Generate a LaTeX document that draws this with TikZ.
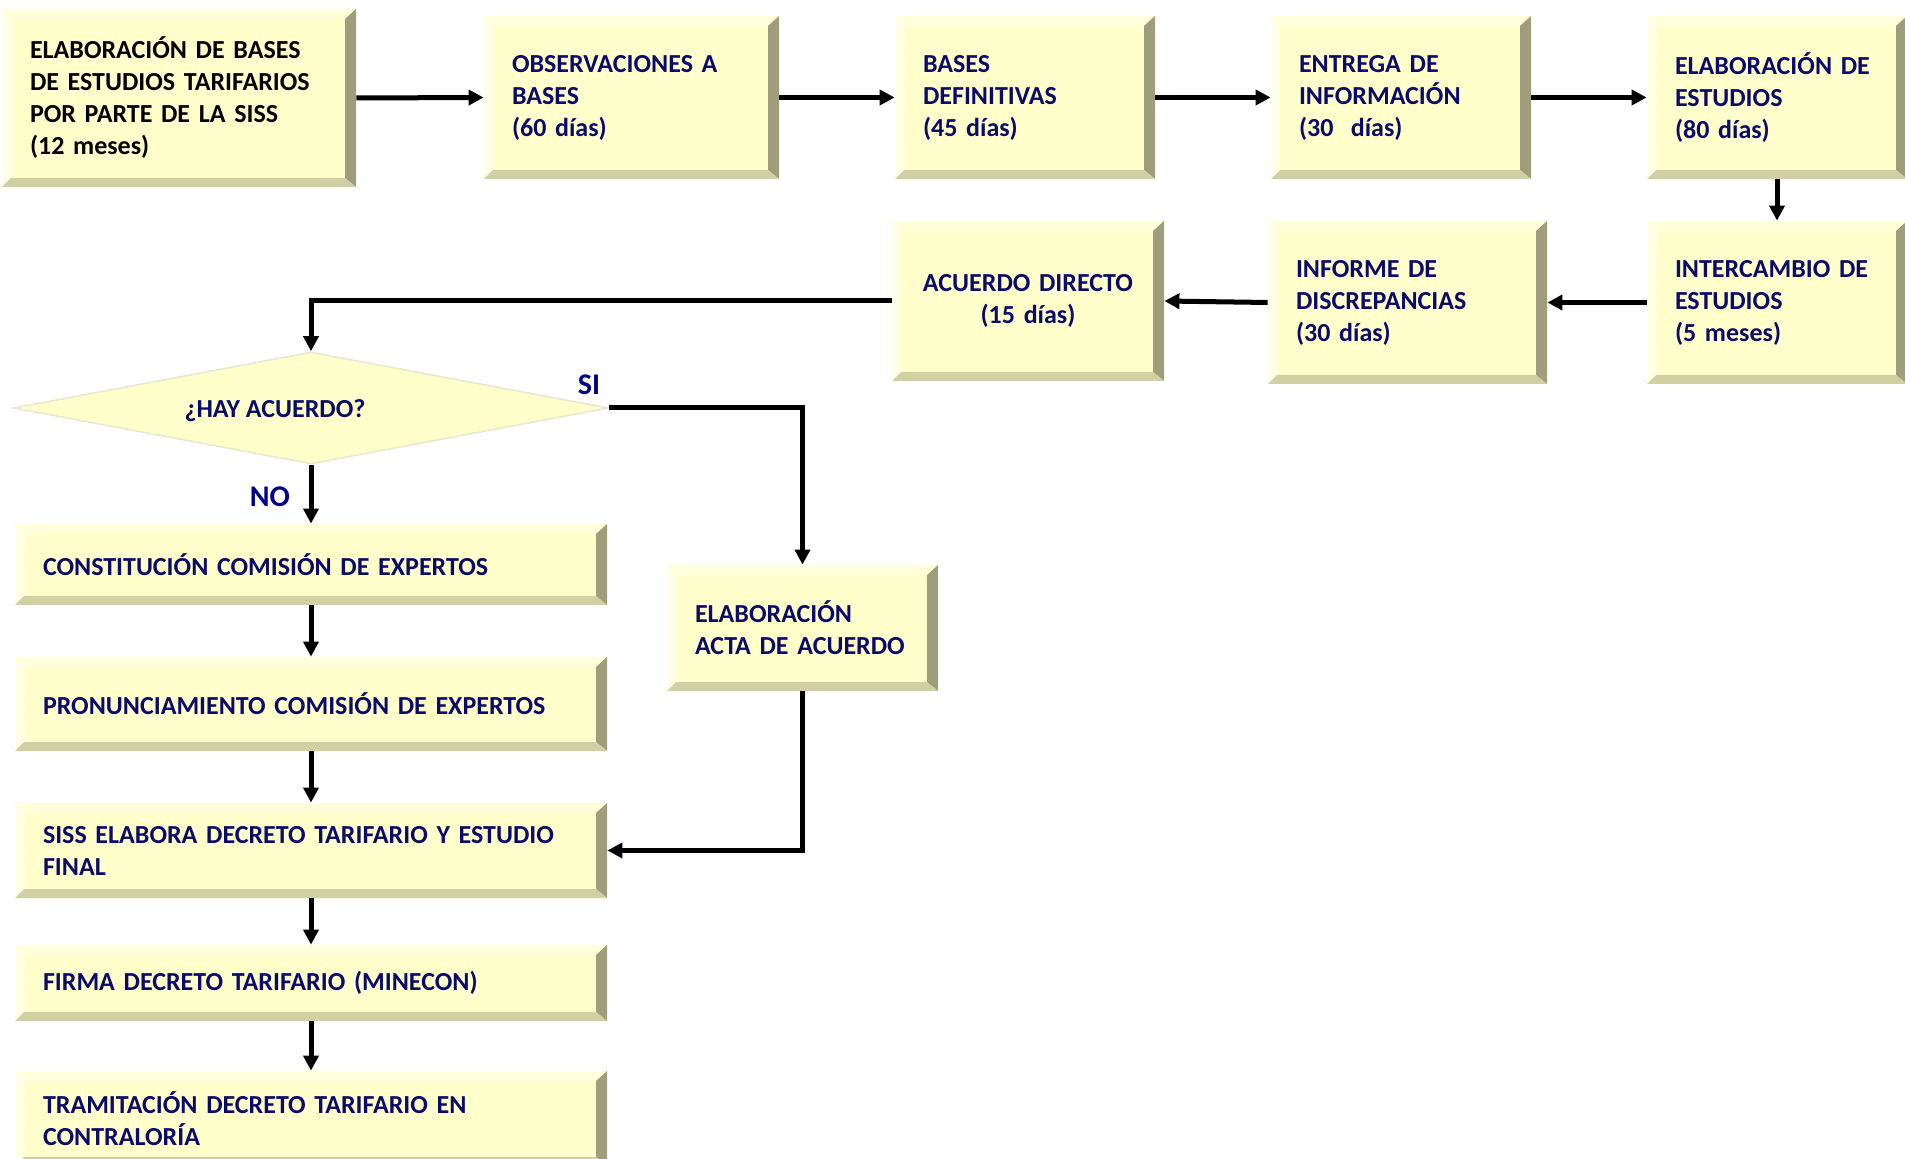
\documentclass[tikz,border=0pt]{standalone}
\usepackage{fontspec}
\setmainfont{Carlito}
\usepackage{tikz}
\usetikzlibrary{arrows.meta}
\usetikzlibrary{calc}
\usetikzlibrary{shapes.geometric}

\definecolor{boxface}{HTML}{FFFFCC}
\definecolor{boxlight}{HTML}{FFFFE8}
\definecolor{boxtop}{HTML}{FFFFDC}
\definecolor{boxdark}{HTML}{9E9E7C}
\definecolor{boxbottom}{HTML}{D0D0A2}
\definecolor{boxtext}{HTML}{0A0A6A}
\definecolor{answertext}{HTML}{00008C}
\definecolor{diamondline}{HTML}{E8E8CC}

\tikzset{
    bevelbox/.style={rectangle, fill=boxface, text=boxtext, inner xsep=14pt,
        inner ysep=0pt, align=left,
        font=\fontsize{13pt}{16pt}\selectfont\bfseries,
        path picture={
            \coordinate (pnw) at (path picture bounding box.north west);
            \coordinate (pne) at (path picture bounding box.north east);
            \coordinate (psw) at (path picture bounding box.south west);
            \coordinate (pse) at (path picture bounding box.south east);
            \fill[boxlight] (psw) -- (pnw) -- ([shift={(4.5pt,-5pt)}]pnw)
                -- ([shift={(4.5pt,4.5pt)}]psw) -- cycle;
            \fill[boxtop] (pnw) -- (pne) -- ([shift={(-5.5pt,-5pt)}]pne)
                -- ([shift={(4.5pt,-5pt)}]pnw) -- cycle;
            \fill[boxdark] (pne) -- (pse) -- ([shift={(-5.5pt,4.5pt)}]pse)
                -- ([shift={(-5.5pt,-5pt)}]pne) -- cycle;
            \fill[boxbottom] (psw) -- (pse) -- ([shift={(-5.5pt,4.5pt)}]pse)
                -- ([shift={(4.5pt,4.5pt)}]psw) -- cycle;
        }},
    decision/.style={diamond, fill=boxface, draw=diamondline, line width=0.8pt,
        minimum width=297.5pt, minimum height=56pt, inner sep=0pt},
    decisiontext/.style={text=boxtext,
        font=\fontsize{13pt}{16pt}\selectfont\bfseries},
    answer/.style={text=answertext,
        font=\fontsize{15pt}{18pt}\selectfont\bfseries},
    flow/.style={line width=2.5pt, -{Triangle[length=7.5pt,width=7.5pt]}},
}

\begin{document}
\begin{tikzpicture}[x=0.5pt,y=-0.5pt]
        \useasboundingbox (0,0) rectangle (1905,1159);

        % upper row
        \node[bevelbox, text=black, text width=149pt, minimum width=177pt,
        minimum height=89pt] (bases) at (179,98) {ELABORACIÓN DE BASES\\DE
        ESTUDIOS TARIFARIOS\\POR PARTE DE LA SISS\\(12 meses)};

        \node[bevelbox, text width=119.5pt, minimum width=147.5pt,
        minimum height=81.5pt] (obs) at (631.5,97.5) {OBSERVACIONES A\\
        BASES\\(60 días)};

        \node[bevelbox, text width=102pt, minimum width=130pt,
        minimum height=81.5pt] (defin) at (1025,97.5) {BASES\\DEFINITIVAS\\
        (45 días)};

        \node[bevelbox, text width=102pt, minimum width=130pt,
        minimum height=81.5pt] (entrega) at (1401,97.5) {ENTREGA DE\\
        INFORMACIÓN\\(30\ \ días)};

        \node[bevelbox, text width=102pt, minimum width=130pt,
        minimum height=81.5pt] (elabest) at (1777,97.5) {ELABORACIÓN DE\\
        ESTUDIOS\\(80 días)};

        % second row, right to left
        \node[bevelbox, text width=102pt, minimum width=130pt,
        minimum height=81.5pt] (interc) at (1777,302.5) {INTERCAMBIO DE\\
        ESTUDIOS\\(5 meses)};

        \node[bevelbox, text width=111.5pt, minimum width=139.5pt,
        minimum height=81.5pt] (informe) at (1407.5,302.5) {INFORME DE\\
        DISCREPANCIAS\\(30 días)};

        \node[bevelbox, align=center, text width=108pt, minimum width=136pt,
        minimum height=80pt] (acuerdo) at (1028,301) {ACUERDO DIRECTO\\
        (15 días)};

        % decision
        \node[decision, label={[decisiontext, xshift=-18pt, yshift=-1.5pt]center:¿HAY
        ACUERDO?}] (dec) at (311,408) {};

        % left column
        \node[bevelbox, text width=268pt, minimum width=296pt,
        minimum height=40.5pt] (constit) at (311,564.5) {CONSTITUCIÓN
        COMISIÓN DE EXPERTOS};

        \node[bevelbox, text width=268pt, minimum width=296pt,
        minimum height=47pt] (pronun) at (311,704) {PRONUNCIAMIENTO
        COMISIÓN DE EXPERTOS};

        \node[bevelbox, text width=268pt, minimum width=296pt,
        minimum height=47.5pt] (siss) at (311,850.5) {SISS ELABORA DECRETO
        TARIFARIO Y ESTUDIO\\FINAL};

        \node[bevelbox, text width=268pt, minimum width=296pt,
        minimum height=38pt] (firma) at (311,983) {FIRMA DECRETO TARIFARIO
        (MINECON)};

        \node[bevelbox, text width=268pt, minimum width=296pt,
        minimum height=47.5pt] (tramit) at (311,1118.5) {TRAMITACIÓN DECRETO
        TARIFARIO EN\\CONTRALORÍA};

        \node[bevelbox, text width=107.5pt, minimum width=135.5pt,
        minimum height=63pt] (acta) at (802.5,628) {ELABORACIÓN\\ACTA DE
        ACUERDO};

        % connectors
        \draw[flow] (bases.east) -- (obs.west);
        \draw[flow] (obs.east) -- (defin.west);
        \draw[flow] (defin.east) -- (entrega.west);
        \draw[flow] (entrega.east) -- (elabest.west);
        \draw[flow] (elabest.south) -- (interc.north);
        \draw[flow] (interc.west) -- (informe.east);
        \draw[flow] (informe.west) -- (acuerdo.east);
        \draw[flow] (acuerdo.west) -| (dec.north);

        \draw[flow] (dec.east) node[answer, above left, yshift=2pt] {SI}
        -| (acta.north);
        \draw[flow] (dec.south) -- node[answer, left, pos=0.55, xshift=-6pt]
        {NO} (constit.north);

        \draw[flow] (constit.south) -- (pronun.north);
        \draw[flow] (pronun.south) -- (siss.north);
        \draw[flow] (siss.south) -- (firma.north);
        \draw[flow] (firma.south) -- (tramit.north);
        \draw[flow] (acta.south) |- (siss.east);
\end{tikzpicture}
\end{document}
